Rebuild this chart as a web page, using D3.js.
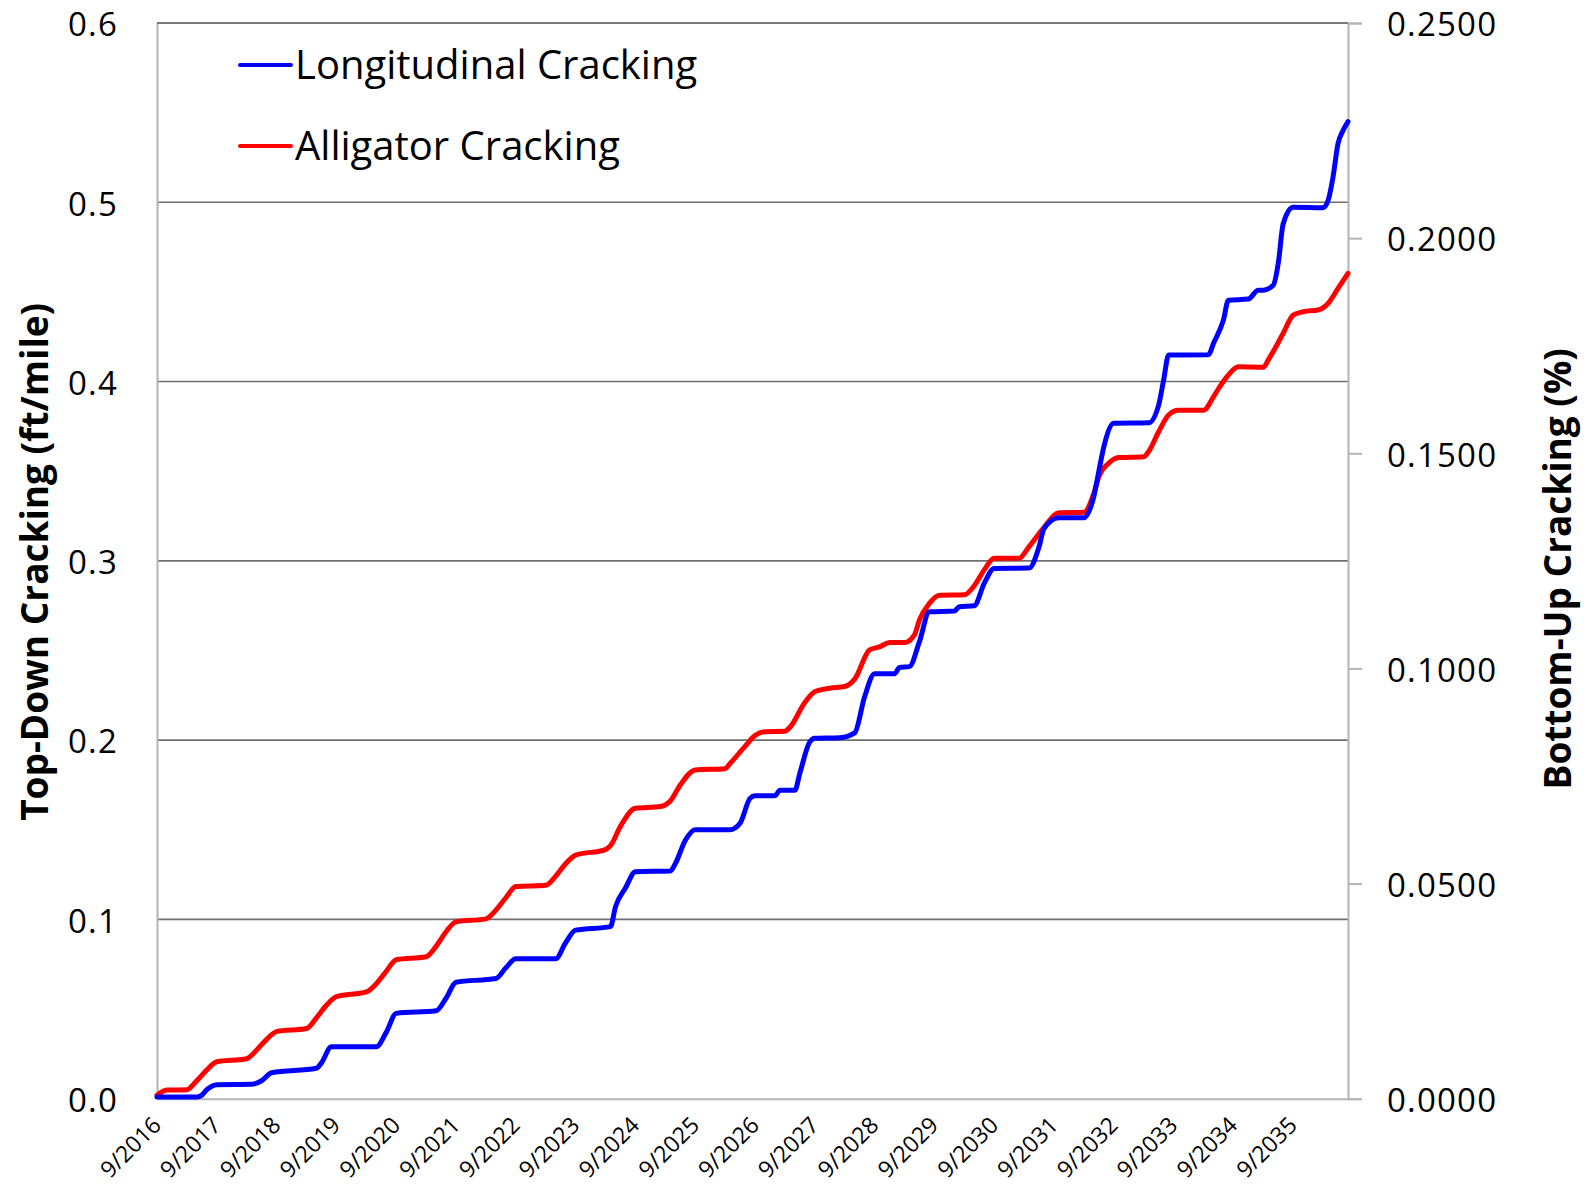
<!DOCTYPE html>
<html>
<head>
<meta charset="utf-8">
<script src="https://cdn.jsdelivr.net/npm/d3@7/dist/d3.min.js"></script>
<style>
  html, body { margin: 0; padding: 0; background: #fff; }
  svg { display: block; font-family: "Open Sans", "Noto Sans", sans-serif; }
</style>
</head>
<body>
<svg id="chart" width="1587" height="1185"></svg>
<script>
// Month offsets are counted from 9/2016 (0) to 8/2036 (239).

// Longitudinal (top-down) cracking, ft/mile — left axis
const longMonths = [0, 8, 9, 10, 12, 19, 21, 23, 32, 33, 35, 44, 46, 48, 56, 58, 60, 68, 70, 72,
  80, 82, 84, 91, 92, 94, 96, 103, 104, 106, 108, 115, 117, 119, 120, 124, 125, 128, 129, 131,
  132, 137, 140, 142, 144, 148, 149, 151, 153, 155, 160, 161, 164, 166, 168, 175, 177, 178, 181, 186,
  188, 189, 190, 192, 199, 201, 202, 203, 211, 212, 214, 215, 219, 221, 222, 224, 225, 226, 228, 234,
  235, 236, 237, 238, 239];
const longValues = [0.001, 0.001, 0.002, 0.005, 0.0078, 0.008, 0.010, 0.0145, 0.017, 0.020, 0.029, 0.029, 0.037, 0.0476, 0.049, 0.056, 0.065, 0.067, 0.073, 0.078,
  0.078, 0.087, 0.094, 0.096, 0.107, 0.1175, 0.1266, 0.127, 0.131, 0.144, 0.150, 0.150, 0.1536, 0.1675, 0.169, 0.169, 0.172, 0.172, 0.1815, 0.199,
  0.201, 0.2013, 0.204, 0.2242, 0.237, 0.237, 0.2405, 0.241, 0.255, 0.2716, 0.272, 0.2744, 0.275, 0.2874, 0.2958, 0.296, 0.3079, 0.318, 0.324, 0.324,
  0.336, 0.350, 0.3636, 0.3767, 0.377, 0.3869, 0.4008, 0.4148, 0.415, 0.4213, 0.4343, 0.4454, 0.446, 0.451, 0.451, 0.4537, 0.4659, 0.488, 0.4972, 0.497,
  0.501, 0.5142, 0.5328, 0.540, 0.545];

// Alligator (bottom-up) cracking, % — right axis
const alligMonths = [0, 2, 6, 8, 10, 12, 18, 20, 22, 24, 30, 32, 34, 36, 42, 44, 46, 48, 54, 56,
  58, 60, 66, 68, 70, 72, 78, 80, 82, 84, 90, 91, 93, 96, 101, 103, 105, 108, 114, 115,
  118, 120, 122, 126, 127, 130, 132, 135, 138, 140, 143, 145, 147, 150, 152, 153, 155, 157, 162, 164,
  166, 168, 173, 175, 178, 181, 186, 188, 189, 191, 193, 198, 199, 201, 203, 205, 210, 212, 213, 215,
  217, 222, 223, 226, 228, 230, 233, 235, 237, 239];
const alligValues = [0.0008, 0.0020, 0.0021, 0.0042, 0.0067, 0.0086, 0.0093, 0.0113, 0.0138, 0.0156, 0.0163, 0.0188, 0.0217, 0.0237, 0.0248, 0.0267, 0.0296, 0.0323, 0.0330, 0.0354,
  0.0388, 0.0411, 0.0418, 0.0438, 0.0467, 0.0493, 0.0496, 0.0517, 0.0546, 0.0566, 0.0579, 0.0588, 0.0633, 0.0675, 0.0679, 0.0692, 0.0729, 0.0764, 0.0767, 0.0779,
  0.0819, 0.0844, 0.0853, 0.0854, 0.0863, 0.0921, 0.0946, 0.0954, 0.0958, 0.0975, 0.1043, 0.1050, 0.1060, 0.1060, 0.1078, 0.1113, 0.1151, 0.1170, 0.1171, 0.1192,
  0.1229, 0.1256, 0.1256, 0.1283, 0.1328, 0.1362, 0.1363, 0.1407, 0.1446, 0.1477, 0.1490, 0.1492, 0.1504, 0.1550, 0.1589, 0.1600, 0.1600, 0.1631, 0.1650, 0.1682,
  0.1701, 0.1700, 0.1717, 0.1779, 0.1821, 0.1829, 0.1833, 0.1848, 0.1883, 0.1918];

// Axis ticks
const xTickMonths = [0, 12, 24, 36, 48, 60, 72, 84, 96, 108, 120, 132, 144, 156, 168, 180, 192, 204, 216, 228];
const xTickLabels = ["9/2016", "9/2017", "9/2018", "9/2019", "9/2020", "9/2021", "9/2022", "9/2023", "9/2024", "9/2025",
  "9/2026", "9/2027", "9/2028", "9/2029", "9/2030", "9/2031", "9/2032", "9/2033", "9/2034", "9/2035"];
const leftTicks = [0, 0.1, 0.2, 0.3, 0.4, 0.5, 0.6];
const rightTicks = [0, 0.05, 0.10, 0.15, 0.20, 0.25];

const seriesNames = ["Longitudinal Cracking", "Alligator Cracking"];
const seriesColors = ["#0000ff", "#ff0000"];
const leftTitle = "Top-Down Cracking (ft/mile)";
const rightTitle = "Bottom-Up Cracking (%)";

// Layout
const plot = { left: 157, right: 1348, top: 23, bottom: 1098.7 };
const svg = d3.select("#chart");

const x = d3.scaleLinear().domain([0, 239]).range([plot.left, plot.right]);
const yL = d3.scaleLinear().domain([0, 0.6]).range([plot.bottom, plot.top]);
const yR = d3.scaleLinear().domain([0, 0.25]).range([plot.bottom, plot.top]);

// Horizontal gridlines on the left-axis ticks
svg.append("g")
  .selectAll("line")
  .data(leftTicks.filter(d => d > 0))
  .join("line")
  .attr("x1", plot.left).attr("x2", plot.right)
  .attr("y1", d => yL(d)).attr("y2", d => yL(d))
  .attr("stroke", "#6f6f6f").attr("stroke-width", 1.6);

// Value-axis labels share one style
function styleValueLabels(g) {
  g.selectAll(".tick text")
    .attr("font-size", 33).attr("fill", "#000")
    .attr("font-family", "'Open Sans', sans-serif")
    .attr("letter-spacing", "1.2px")
    .attr("dy", "12.8px");
}

// Left axis
const gLeft = svg.append("g")
  .attr("transform", `translate(${plot.left},0)`)
  .call(d3.axisLeft(yL).tickValues(leftTicks).tickSize(0).tickPadding(39).tickFormat(d3.format(".1f")));
gLeft.select(".domain").attr("stroke", "#b4b4b4").attr("stroke-width", 2);
styleValueLabels(gLeft);

// Right axis
const gRight = svg.append("g")
  .attr("transform", `translate(${plot.right},0)`)
  .call(d3.axisRight(yR).tickValues(rightTicks).tickSize(14).tickPadding(25).tickFormat(d3.format(".4f")));
gRight.select(".domain").attr("stroke", "#b4b4b4").attr("stroke-width", 2);
gRight.selectAll(".tick line").attr("stroke", "#b4b4b4").attr("stroke-width", 2);
styleValueLabels(gRight);

// Bottom axis
const gBottom = svg.append("g")
  .attr("transform", `translate(0,${plot.bottom})`)
  .call(d3.axisBottom(x).tickValues(xTickMonths).tickSize(0).tickFormat((d, i) => xTickLabels[i]));
gBottom.select(".domain").attr("stroke", "#b4b4b4").attr("stroke-width", 2);
gBottom.selectAll(".tick text")
  .attr("font-size", 23).attr("fill", "#000")
  .attr("font-family", "'Open Sans', sans-serif")
  .attr("text-anchor", "end")
  .attr("y", 0).attr("dy", 0)
  .attr("transform", "translate(5,28) rotate(-45)");

// Series lines
const lineL = d3.line().x(d => x(d[0])).y(d => yL(d[1])).curve(d3.curveMonotoneX);
const lineR = d3.line().x(d => x(d[0])).y(d => yR(d[1])).curve(d3.curveMonotoneX);

svg.append("path")
  .datum(alligMonths.map((m, i) => [m, alligValues[i]]))
  .attr("fill", "none").attr("stroke", seriesColors[1]).attr("stroke-width", 5)
  .attr("stroke-linejoin", "round").attr("stroke-linecap", "round")
  .attr("d", lineR);

svg.append("path")
  .datum(longMonths.map((m, i) => [m, longValues[i]]))
  .attr("fill", "none").attr("stroke", seriesColors[0]).attr("stroke-width", 5)
  .attr("stroke-linejoin", "round").attr("stroke-linecap", "round")
  .attr("d", lineL);

// Top border
svg.append("line")
  .attr("x1", plot.left).attr("x2", plot.right)
  .attr("y1", plot.top).attr("y2", plot.top)
  .attr("stroke", "#6f6f6f").attr("stroke-width", 1.6);

// Legend
const legend = svg.append("g");
seriesNames.forEach((name, i) => {
  const ly = 65 + i * 81;
  legend.append("line")
    .attr("x1", 240).attr("x2", 291).attr("y1", ly).attr("y2", ly)
    .attr("stroke", seriesColors[i]).attr("stroke-width", 4).attr("stroke-linecap", "round");
  legend.append("text")
    .attr("x", 295).attr("y", ly).attr("dy", "0.36em")
    .attr("font-size", 40).attr("fill", "#000")
    .text(name);
});

// Axis titles
svg.append("text")
  .attr("transform", `translate(48,${(plot.top + plot.bottom) / 2 + 1}) rotate(-90)`)
  .attr("text-anchor", "middle")
  .attr("font-size", 37).attr("font-weight", "bold").attr("fill", "#000")
  .text(leftTitle);

svg.append("text")
  .attr("transform", `translate(1571,${(plot.top + plot.bottom) / 2 + 8}) rotate(-90)`)
  .attr("text-anchor", "middle")
  .attr("font-size", 37).attr("font-weight", "bold").attr("fill", "#000")
  .text(rightTitle);
</script>
</body>
</html>
